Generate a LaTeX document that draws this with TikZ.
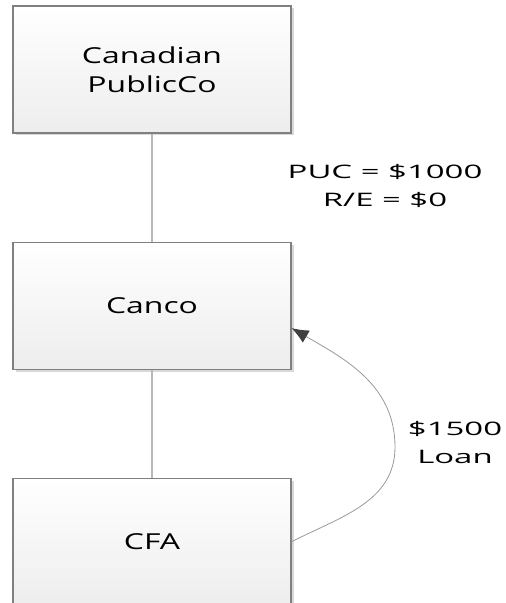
\documentclass[tikz,border=0pt]{standalone}
\usepackage{fontspec}
\setmainfont{Open Sans}
\newfontfamily\boxfont[FakeStretch=1.45]{Open Sans}
\newfontfamily\notefont[FakeStretch=1.77]{Open Sans}
\usetikzlibrary{arrows.meta}
\usetikzlibrary{positioning,shadows}
\colorlet{boxcol}{black!7}
\colorlet{edgecol}{black!50}
\colorlet{linkcol}{black!28}
\tikzset{>=latex}
\tikzstyle{entity} = [%
					draw = edgecol, line width = 1.1pt,
					top color = white, bottom color = boxcol,
					minimum width = 278pt, minimum height = 127pt,
					inner sep = 0pt, align = center, text = black,
					font = \boxfont\fontsize{22pt}{29pt}\selectfont,
					drop shadow = {shadow xshift = 2.5pt, shadow yshift = -2.5pt, fill = black!30}
					]
\tikzstyle{link} = [line width = 1.8pt, color = linkcol]
\tikzstyle{loan} = [line width = 0.8pt, color = black!40,
					-{Latex[length=17pt,width=14pt,color=black!75]}]
\tikzstyle{note} = [align = center, text = black, inner sep = 0pt,
					font = \notefont\fontsize{18.6pt}{28pt}\selectfont]

\begin{document}
\begin{tikzpicture}[x=1pt,y=1pt]
  \useasboundingbox (0,0) rectangle (506,603);
  \def\gap{108pt} % space between boxes

  % ENTITIES
  \node[entity] (pubco) at (152,533.5) {Canadian\\PublicCo};
  \node[entity, below = \gap of pubco] (canco) {Canco};
  \node[entity, below = \gap of canco] (cfa) {CFA};

  % OWNERSHIP
  \draw[link] (pubco) -- (canco);
  \draw[link] (canco) -- (cfa);
  \node[note] (capital) at (385,417) {PUC = \$1000\\R/E = \$0};

  % LOAN
  \coordinate (bend) at (395,156);
  \coordinate (tip) at ([yshift=-22.5pt]canco.east);
  \draw[loan] (cfa.east) to[out=27,in=-90] (bend) to[out=90,in=-30] (tip);
  \node[note] (amount) at (455,160) {\$1500\\Loan};
\end{tikzpicture}
\end{document}
